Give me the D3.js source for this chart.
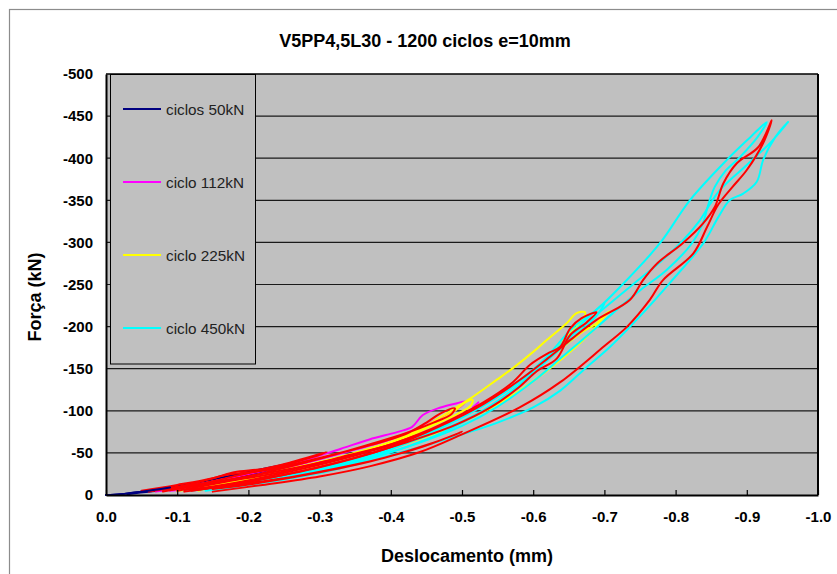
<!DOCTYPE html>
<html><head><meta charset="utf-8">
<script src="https://cdn.jsdelivr.net/npm/d3@7"></script>
<style>
body{margin:0;background:#fff;}
svg{font-family:"Liberation Sans",Arial,sans-serif;}
</style>
</head><body>
<svg id="chart" width="837" height="574"></svg>
<script>
// ---------- DATA ----------
const chartTitle = "V5PP4,5L30 - 1200 ciclos e=10mm";
const xTitle = "Deslocamento (mm)";
const yTitle = "Força (kN)";
const xTickValues = [0, -0.1, -0.2, -0.3, -0.4, -0.5, -0.6, -0.7, -0.8, -0.9, -1.0];
const yTickValues = [0, -50, -100, -150, -200, -250, -300, -350, -400, -450, -500];
const legendNames = ["ciclos 50kN", "ciclo 112kN", "ciclo 225kN", "ciclo 450kN"];
const legendColors = ["#000080", "#FF00FF", "#FFFF00", "#00FFFF"];
const extraColor = "#FF0000";

// each series: list of loops, each loop: [displacement mm, force kN]
const ciclos50 = [
  [[0,0],[-0.02,-1],[-0.05,-4],[-0.09,-9],[-0.13,-15],[-0.17,-22],[-0.21,-29],[-0.25,-36],[-0.28,-41],[-0.25,-34],[-0.2,-24],[-0.15,-15],[-0.1,-8],[-0.06,-4],[-0.03,-1]]
];
const ciclo112 = [
  [[-0.07,-4],[-0.12,-11],[-0.2,-25],[-0.27,-39],[-0.33,-55],[-0.37,-66],[-0.41,-75],[-0.43,-81],[-0.445,-95],[-0.47,-104],[-0.493,-109],[-0.505,-111],[-0.495,-103],[-0.47,-92],[-0.44,-80],[-0.4,-66],[-0.35,-54],[-0.28,-38],[-0.2,-21],[-0.13,-9],[-0.09,-5]],
  [[-0.515,-104],[-0.523,-110]]
];
const ciclo225 = [
  [[-0.1,-5],[-0.17,-15],[-0.25,-30],[-0.33,-45],[-0.4,-62],[-0.45,-80],[-0.49,-100],[-0.505,-110],[-0.515,-113],[-0.512,-106],[-0.495,-97],[-0.46,-83],[-0.42,-68],[-0.35,-50],[-0.27,-33],[-0.19,-17],[-0.13,-8],[-0.1,-5]],
  [[-0.13,-5],[-0.178,-16],[-0.26,-31],[-0.35,-50],[-0.42,-70],[-0.465,-90],[-0.507,-112],[-0.549,-137],[-0.572,-151],[-0.6,-170],[-0.619,-184],[-0.647,-204],[-0.661,-216],[-0.673,-217],[-0.668,-207],[-0.65,-190],[-0.635,-176],[-0.63,-168],[-0.645,-178],[-0.666,-192],[-0.689,-204],[-0.7,-214],[-0.707,-218],[-0.698,-210],[-0.684,-196],[-0.66,-176],[-0.62,-148],[-0.57,-118],[-0.51,-90],[-0.44,-66],[-0.36,-46],[-0.27,-28],[-0.19,-14],[-0.15,-7]]
];
const ciclo450 = [
  [[-0.15,-5],[-0.25,-20],[-0.35,-38],[-0.45,-66],[-0.52,-95],[-0.57,-122],[-0.61,-152],[-0.64,-180],[-0.67,-205],[-0.7,-228],[-0.69,-214],[-0.66,-190],[-0.62,-160],[-0.57,-124],[-0.52,-96],[-0.45,-70],[-0.37,-48],[-0.28,-28],[-0.2,-14],[-0.15,-7]],
  [[-0.14,-5],[-0.22,-16],[-0.3,-30],[-0.38,-48],[-0.45,-72],[-0.5,-95],[-0.558,-121],[-0.614,-160],[-0.655,-198],[-0.689,-220],[-0.722,-247],[-0.778,-299],[-0.82,-350],[-0.872,-398],[-0.905,-425],[-0.928,-443],[-0.915,-425],[-0.89,-401],[-0.87,-385],[-0.855,-366],[-0.846,-345],[-0.838,-322],[-0.823,-299],[-0.787,-267],[-0.75,-243],[-0.712,-216],[-0.67,-185],[-0.638,-162],[-0.6,-135],[-0.55,-105],[-0.5,-82],[-0.44,-62],[-0.37,-44],[-0.28,-26],[-0.2,-13],[-0.14,-6]],
  [[-0.15,-5],[-0.3,-30],[-0.42,-62],[-0.5,-92],[-0.56,-122],[-0.61,-155],[-0.655,-190],[-0.7,-222],[-0.74,-250],[-0.78,-278],[-0.81,-302],[-0.833,-325],[-0.848,-345],[-0.862,-362],[-0.9,-392],[-0.935,-420],[-0.958,-443],[-0.94,-425],[-0.923,-398],[-0.914,-372],[-0.895,-358],[-0.876,-350],[-0.86,-330],[-0.839,-299],[-0.792,-252],[-0.754,-216],[-0.708,-176],[-0.67,-148],[-0.638,-124],[-0.6,-104],[-0.55,-86],[-0.5,-72],[-0.441,-57],[-0.385,-44],[-0.3,-26],[-0.2,-12],[-0.11,-5]]
];
const outrosCiclos = [
  [[-0.05,-5],[-0.1,-12],[-0.15,-20],[-0.18,-27],[-0.22,-31],[-0.26,-39],[-0.31,-51],[-0.29,-45],[-0.24,-33],[-0.19,-24],[-0.13,-13],[-0.08,-6]],
  [[-0.08,-4],[-0.14,-14],[-0.2,-22],[-0.27,-33],[-0.34,-46],[-0.4,-60],[-0.44,-72],[-0.41,-62],[-0.35,-47],[-0.28,-32],[-0.21,-19],[-0.15,-10],[-0.11,-6]],
  [[-0.11,-4],[-0.18,-12],[-0.25,-20],[-0.32,-31],[-0.38,-42],[-0.44,-56],[-0.5,-75],[-0.46,-62],[-0.39,-44],[-0.3,-27],[-0.22,-15],[-0.15,-7]],
  [[-0.06,-4],[-0.12,-13],[-0.17,-24],[-0.22,-29],[-0.3,-44],[-0.37,-59],[-0.42,-72],[-0.45,-86],[-0.47,-97],[-0.49,-103],[-0.485,-96],[-0.46,-86],[-0.42,-73],[-0.37,-60],[-0.3,-43],[-0.22,-26],[-0.15,-14],[-0.09,-6]],
  [[-0.1,-5],[-0.17,-16],[-0.25,-28],[-0.33,-45],[-0.4,-60],[-0.45,-76],[-0.49,-92],[-0.53,-110],[-0.57,-133],[-0.596,-155],[-0.62,-168],[-0.638,-176],[-0.652,-198],[-0.668,-210],[-0.689,-217],[-0.675,-205],[-0.652,-190],[-0.633,-162],[-0.605,-147],[-0.58,-128],[-0.54,-104],[-0.49,-83],[-0.42,-62],[-0.34,-42],[-0.25,-24],[-0.17,-11],[-0.12,-6]],
  [[-0.12,-5],[-0.2,-16],[-0.3,-33],[-0.4,-57],[-0.47,-82],[-0.53,-108],[-0.58,-136],[-0.62,-162],[-0.655,-186],[-0.689,-208],[-0.736,-232],[-0.754,-255],[-0.774,-275],[-0.81,-299],[-0.838,-322],[-0.855,-342],[-0.867,-370],[-0.886,-394],[-0.916,-413],[-0.935,-445],[-0.923,-418],[-0.9,-386],[-0.88,-366],[-0.86,-345],[-0.844,-318],[-0.825,-287],[-0.782,-255],[-0.764,-232],[-0.732,-200],[-0.7,-177],[-0.638,-134],[-0.581,-104],[-0.5,-72],[-0.441,-51],[-0.37,-34],[-0.3,-22],[-0.22,-12],[-0.15,-4]]
];

// ---------- DRAW ----------
const svg = d3.select("#chart");
const W = 837, H = 574;
const plot = {left:106, right:818, top:74, bottom:495};

const x = d3.scaleLinear().domain([0, -1]).range([plot.left, plot.right]);
const y = d3.scaleLinear().domain([0, -500]).range([plot.bottom, plot.top]);

// outer frame
svg.append("rect").attr("x",9.5).attr("y",9.5).attr("width",W+20).attr("height",H+20)
  .attr("fill","#fff").attr("stroke","#8c8c8c").attr("stroke-width",1.2);

// title
svg.append("text").attr("x",425).attr("y",47).attr("text-anchor","middle")
  .attr("font-size",18).attr("font-weight","bold").attr("fill","#000").text(chartTitle);

// plot area
svg.append("rect").attr("x",plot.left).attr("y",plot.top)
  .attr("width",plot.right-plot.left).attr("height",plot.bottom-plot.top)
  .attr("fill","#C0C0C0");

// gridlines
svg.append("g").selectAll("line").data(yTickValues.filter(v => v !== 0 && v !== -500)).join("line")
  .attr("x1",plot.left).attr("x2",plot.right)
  .attr("y1",d => y(d)).attr("y2",d => y(d))
  .attr("stroke","#1a1a1a").attr("stroke-width",1.2);

// top & right border
svg.append("line").attr("x1",plot.left).attr("x2",plot.right).attr("y1",plot.top).attr("y2",plot.top)
  .attr("stroke","#000").attr("stroke-width",1.6);
svg.append("line").attr("x1",plot.right).attr("x2",plot.right).attr("y1",plot.top).attr("y2",plot.bottom)
  .attr("stroke","#000").attr("stroke-width",2);

// curves
const line = d3.line().x(d => x(d[0])).y(d => y(d[1])).curve(d3.curveCatmullRom.alpha(0.5));
const curves = svg.append("g").attr("fill","none").attr("stroke-width",2).attr("stroke-linejoin","round").attr("stroke-linecap","round");
const allSeries = [
  {data: ciclos50, color: legendColors[0]},
  {data: ciclo112, color: legendColors[1]},
  {data: ciclo225, color: legendColors[2]},
  {data: ciclo450, color: legendColors[3]},
  {data: outrosCiclos, color: extraColor}
];
allSeries.forEach(s => {
  curves.append("g").attr("stroke", s.color).selectAll("path").data(s.data).join("path").attr("d", line);
});
// the 50kN line near the origin stays visible on top
curves.append("path").attr("stroke",legendColors[0]).attr("d", line(ciclos50[0].slice(0,4)));

// axes
const xAxis = d3.axisBottom(x).tickValues(xTickValues).tickSizeInner(-5).tickSizeOuter(0).tickPadding(16)
  .tickFormat(d => d.toFixed(1));
const gx = svg.append("g").attr("transform",`translate(0,${plot.bottom})`).call(xAxis);
gx.select(".domain").attr("stroke","#000").attr("stroke-width",2);
gx.selectAll(".tick line").attr("stroke","#000").attr("stroke-width",1.2);
gx.selectAll("text").attr("font-size",15).attr("font-weight","bold").attr("fill","#000")
  .attr("font-family","Liberation Sans, Arial, sans-serif");

const yAxis = d3.axisLeft(y).tickValues(yTickValues).tickSizeInner(0).tickSizeOuter(0).tickPadding(13)
  .tickFormat(d => String(d));
const gy = svg.append("g").attr("transform",`translate(${plot.left},0)`).call(yAxis);
gy.select(".domain").attr("stroke","#000").attr("stroke-width",2);
gy.selectAll("text").attr("font-size",15).attr("font-weight","bold").attr("fill","#000")
  .attr("font-family","Liberation Sans, Arial, sans-serif");

// axis titles
svg.append("text").attr("x",467).attr("y",562).attr("text-anchor","middle")
  .attr("font-size",18).attr("font-weight","bold").attr("fill","#000").text(xTitle);
svg.append("text").attr("transform","translate(41,297) rotate(-90)").attr("text-anchor","middle")
  .attr("font-size",18).attr("font-weight","bold").attr("fill","#000").text(yTitle);

// legend
const lg = svg.append("g");
lg.append("rect").attr("x",110.5).attr("y",74.5).attr("width",145).attr("height",289.5)
  .attr("fill","#C0C0C0").attr("stroke","#000").attr("stroke-width",1);
const ly = d3.scalePoint().domain(legendNames).range([109, 328]);
const items = lg.selectAll("g.item").data(legendNames).join("g").attr("class","item")
  .attr("transform", d => `translate(0,${ly(d)})`);
items.append("line").attr("x1",123).attr("x2",161).attr("y1",0).attr("y2",0)
  .attr("stroke",(d,i) => legendColors[i]).attr("stroke-width",2);
items.append("text").attr("x",166).attr("y",0).attr("dy","0.36em")
  .attr("font-size",15.3).attr("fill","#222").text(d => d);
</script>
</body></html>
